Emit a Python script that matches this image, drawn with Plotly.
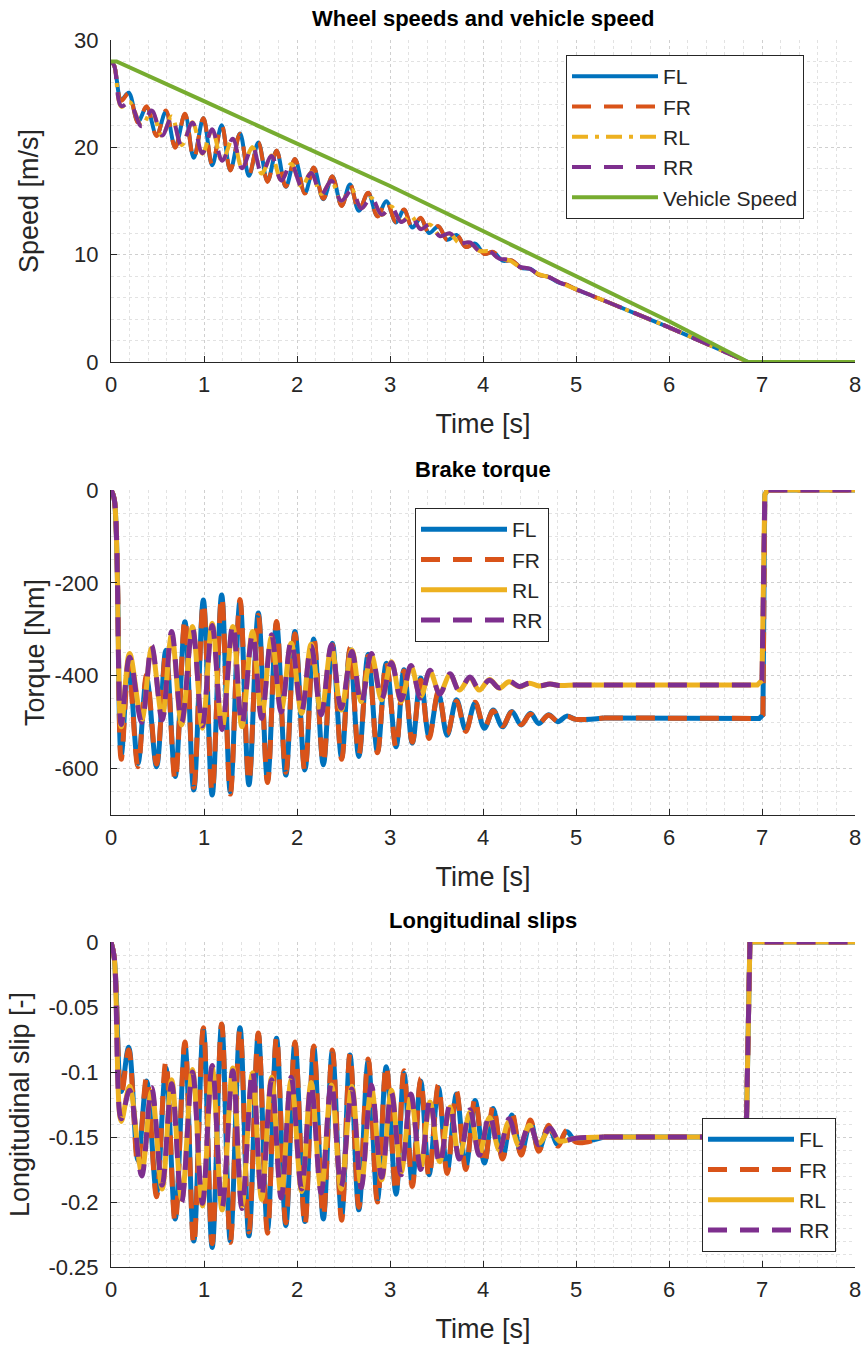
import plotly.graph_objects as go

# ---------------- data ----------------
# extrema times of the front-wheel oscillation (shared by torque / slip / speed)
T_FRONT = [0.0, 0.035, 0.11, 0.19, 0.29, 0.383, 0.49, 0.59, 0.69, 0.795, 0.89, 0.993, 1.088, 1.19,
           1.283, 1.387, 1.483, 1.584, 1.683, 1.78, 1.88, 1.978, 2.085, 2.18, 2.283, 2.38, 2.48, 2.57,
           2.665, 2.765, 2.865, 2.96, 3.065, 3.15, 3.24, 3.33, 3.42, 3.52, 3.615, 3.715, 3.815, 3.915,
           4.015, 4.11, 4.21, 4.31, 4.41, 4.51, 4.60, 4.705, 4.805, 4.90, 5.0, 5.3]
# extrema times of the rear-wheel oscillation
T_REAR = [0.0, 0.035, 0.11, 0.20, 0.33, 0.437, 0.55, 0.652, 0.76, 0.876, 0.983, 1.088, 1.195, 1.31,
          1.408, 1.522, 1.62, 1.727, 1.83, 1.938, 2.05, 2.152, 2.26, 2.37, 2.475, 2.59, 2.69, 2.80,
          2.91, 3.015, 3.12, 3.225, 3.33, 3.43, 3.535, 3.645, 3.745, 3.86, 3.96, 4.07, 4.175, 4.28,
          4.39, 4.50, 4.60, 4.72, 4.82, 5.0, 5.3]

# wheel speeds [m/s]
SPD_FL = [28.0, 27.6, 24.42, 25.09, 22.40, 23.74, 21.13, 23.32, 20.03, 23.08, 19.03, 22.70, 18.33, 22.06,
          17.86, 21.29, 17.35, 20.46, 16.85, 19.69, 16.32, 18.89, 15.75, 18.09, 15.17, 17.29, 14.58, 16.54,
          14.09, 15.74, 13.59, 14.97, 13.00, 14.18, 12.53, 13.40, 12.02, 12.63, 11.39, 11.83, 10.73, 11.03,
          10.08, 10.24, 9.44, 9.45, 8.77, 8.67, 8.13, 7.93, 7.44, 7.19, 6.78, 5.73]
SPD_FR = [28.0, 27.6, 24.33, 25.03, 22.30, 23.82, 21.06, 23.44, 19.95, 23.13, 18.95, 22.72, 18.40, 22.08,
          17.84, 21.26, 17.42, 20.48, 16.78, 19.71, 16.36, 18.91, 15.69, 18.11, 15.20, 17.31, 14.53, 16.56,
          14.12, 15.78, 13.55, 14.99, 13.03, 14.21, 12.50, 13.43, 11.99, 12.66, 11.36, 11.86, 10.71, 11.05,
          10.06, 10.26, 9.43, 9.47, 8.76, 8.68, 8.12, 7.94, 7.44, 7.20, 6.77, 5.73]
SPD_RL = [28.0, 27.6, 23.78, 24.23, 22.04, 23.35, 21.04, 22.88, 20.20, 22.33, 19.41, 21.64, 18.69, 20.85,
          18.10, 20.02, 17.55, 19.23, 16.95, 18.45, 16.32, 17.65, 15.66, 16.84, 14.99, 16.04, 14.34, 15.27,
          13.69, 14.48, 13.09, 13.62, 12.41, 12.80, 11.76, 11.95, 11.07, 11.11, 10.35, 10.30, 9.63, 9.50,
          8.90, 8.68, 8.18, 7.86, 7.42, 6.79, 5.73]
SPD_RR = [28.0, 27.6, 23.84, 24.15, 21.96, 23.43, 21.11, 22.80, 20.15, 22.28, 19.46, 21.68, 18.74, 20.80,
          18.05, 20.06, 17.59, 19.19, 16.91, 18.49, 16.36, 17.61, 15.62, 16.88, 15.02, 16.00, 14.31, 15.31,
          13.73, 14.44, 13.05, 13.65, 12.38, 12.82, 11.73, 11.98, 11.05, 11.14, 10.34, 10.33, 9.62, 9.52,
          8.89, 8.69, 8.17, 7.87, 7.42, 6.79, 5.73]
SPD_TAIL_T = [5.3, 6.0, 6.5, 6.85, 8.0]
SPD_TAIL = [5.73, 3.23, 1.33, 0.0, 0.0]
VEH_T = [0.0, 0.06, 1.0, 2.0, 3.0, 4.0, 5.0, 6.0, 6.85, 8.0]
VEH = [28.0, 28.0, 24.3, 20.4, 16.4, 12.2, 8.0, 3.8, 0.0, 0.0]

# brake torque [Nm]
TQ_FL = [0, -20, -571, -370, -589, -405, -596, -345, -617, -284, -646, -237, -657, -226, -650, -240,
         -635, -265, -625, -287, -614, -305, -603, -321, -592, -330, -577, -344, -574, -354, -564, -373,
         -553, -387, -545, -405, -531, -438, -528, -452, -517, -459, -513, -474, -510, -477, -506, -481,
         -503, -484, -499, -487, -494, -491]
TQ_FR = [0, -20, -580, -378, -596, -398, -590, -352, -625, -278, -640, -243, -650, -230, -655, -236,
         -628, -270, -630, -283, -608, -310, -606, -318, -588, -334, -580, -340, -570, -358, -566, -370,
         -555, -390, -543, -410, -535, -434, -525, -455, -520, -457, -511, -476, -508, -478, -505, -483,
         -502, -485, -498, -488, -494, -491]
TQ_RL = [0, -20, -510, -352, -495, -341, -488, -312, -506, -294, -513, -287, -513, -294, -510, -305,
         -488, -316, -474, -330, -481, -332, -481, -337, -474, -344, -456, -355, -452, -370, -456, -380,
         -445, -391, -438, -398, -431, -405, -431, -408, -427, -413, -424, -416, -422, -418, -421, -420, -420]
TQ_RR = [0, -20, -505, -360, -500, -335, -495, -305, -500, -298, -508, -292, -516, -290, -505, -310,
         -492, -312, -478, -326, -476, -336, -484, -334, -470, -348, -460, -352, -450, -372, -452, -378,
         -448, -388, -440, -396, -433, -403, -429, -410, -426, -412, -423, -416, -422, -418, -421, -420, -420]
TQ_TAIL_T_F = [5.3, 6.97, 7.01, 7.03, 7.06, 8.0]
TQ_TAIL_F = [-491, -492, -484, -10, 0, 0]
TQ_TAIL_T_R = [5.3, 6.95, 7.0, 7.03, 7.06, 8.0]
TQ_TAIL_R = [-420, -420, -410, -10, 0, 0]

# longitudinal slip [-]
SL_FL = [0, -0.012, -0.115, -0.081, -0.168, -0.107, -0.193, -0.097, -0.213, -0.079, -0.230, -0.067,
         -0.235, -0.0635, -0.230, -0.066, -0.226, -0.071, -0.221, -0.074, -0.218, -0.078, -0.215, -0.081,
         -0.213, -0.084, -0.211, -0.087, -0.206, -0.092, -0.198, -0.096, -0.194, -0.101, -0.186, -0.107,
         -0.179, -0.112, -0.176, -0.117, -0.173, -0.122, -0.170, -0.128, -0.166, -0.133, -0.163, -0.138,
         -0.160, -0.142, -0.156, -0.146, -0.153, -0.150]
SL_FR = [0, -0.012, -0.118, -0.083, -0.172, -0.104, -0.196, -0.092, -0.216, -0.077, -0.233, -0.066,
         -0.232, -0.063, -0.231, -0.067, -0.223, -0.070, -0.224, -0.073, -0.216, -0.077, -0.218, -0.080,
         -0.211, -0.083, -0.214, -0.086, -0.204, -0.090, -0.200, -0.095, -0.192, -0.099, -0.188, -0.105,
         -0.181, -0.110, -0.178, -0.115, -0.175, -0.120, -0.171, -0.126, -0.167, -0.131, -0.164, -0.137,
         -0.161, -0.141, -0.157, -0.145, -0.154, -0.150]
SL_RL = [0, -0.012, -0.138, -0.111, -0.177, -0.115, -0.190, -0.106, -0.198, -0.098, -0.203, -0.097,
         -0.206, -0.097, -0.203, -0.1006, -0.198, -0.104, -0.195, -0.106, -0.192, -0.108, -0.191, -0.110,
         -0.190, -0.111, -0.187, -0.112, -0.183, -0.114, -0.177, -0.119, -0.173, -0.123, -0.169, -0.127,
         -0.166, -0.131, -0.163, -0.135, -0.160, -0.138, -0.157, -0.141, -0.155, -0.144, -0.153, -0.151, -0.150]
SL_RR = [0, -0.012, -0.136, -0.114, -0.180, -0.112, -0.187, -0.109, -0.200, -0.100, -0.201, -0.095,
         -0.204, -0.099, -0.205, -0.099, -0.196, -0.106, -0.197, -0.104, -0.190, -0.110, -0.193, -0.108,
         -0.188, -0.113, -0.189, -0.110, -0.181, -0.116, -0.179, -0.117, -0.175, -0.121, -0.171, -0.125,
         -0.167, -0.129, -0.164, -0.133, -0.161, -0.136, -0.158, -0.140, -0.156, -0.143, -0.153, -0.151, -0.150]
SL_TAIL_T = [5.3, 6.83, 6.85, 6.87, 8.0]
SL_TAIL = [-0.150, -0.150, -0.075, 0.0, 0.0]

X_TICKS = [0, 1, 2, 3, 4, 5, 6, 7, 8]
SPD_TICKS = [0, 10, 20, 30]
TQ_TICKS = [-600, -400, -200, 0]
TQ_TICKTEXT = ['-600', '-400', '-200', '0']
SL_TICKS = [-0.25, -0.2, -0.15, -0.1, -0.05, 0]
SL_TICKTEXT = ['-0.25', '-0.2', '-0.15', '-0.1', '-0.05', '0']

for a, b in [(T_FRONT, SPD_FL), (T_FRONT, SPD_FR), (T_FRONT, TQ_FL), (T_FRONT, TQ_FR),
             (T_FRONT, SL_FL), (T_FRONT, SL_FR), (T_REAR, SPD_RL), (T_REAR, SPD_RR),
             (T_REAR, TQ_RL), (T_REAR, TQ_RR), (T_REAR, SL_RL), (T_REAR, SL_RR)]:
    assert len(a) == len(b), (len(a), len(b))

# ---------------- style ----------------
W, H = 865, 1352
C = {'FL': '#0072BD', 'FR': '#D95319', 'RL': '#EDB120', 'RR': '#7E2F8E', 'VEH': '#77AC30'}
FONT = 'Liberation Sans, Arial, Helvetica, sans-serif'
TXT = '#262626'
DASH = '19px,13px'
DASHDOT = '16px,7px,4px,7px'

fig = go.Figure()


def add_series(name, t_osc, v_osc, t_tail, v_tail, ax, legend, color, dash, width):
    xa = 'x' if ax == 1 else 'x%d' % ax
    ya = 'y' if ax == 1 else 'y%d' % ax
    grp = '%s_%d' % (name, ax)
    fig.add_trace(go.Scatter(x=t_osc, y=v_osc, mode='lines', name=name, xaxis=xa, yaxis=ya,
                             legend=legend, legendgroup=grp,
                             line=dict(color=color, width=width, dash=dash, shape='spline', smoothing=1.0)))
    fig.add_trace(go.Scatter(x=t_tail, y=v_tail, mode='lines', name=name, xaxis=xa, yaxis=ya,
                             legend=legend, legendgroup=grp, showlegend=False,
                             line=dict(color=color, width=width, dash=dash)))


# speed plot
add_series('FL', T_FRONT, SPD_FL, SPD_TAIL_T, SPD_TAIL, 1, 'legend', C['FL'], 'solid', 4)
add_series('FR', T_FRONT, SPD_FR, SPD_TAIL_T, SPD_TAIL, 1, 'legend', C['FR'], DASH, 4)
add_series('RL', T_REAR, SPD_RL, SPD_TAIL_T, SPD_TAIL, 1, 'legend', C['RL'], DASHDOT, 4)
add_series('RR', T_REAR, SPD_RR, SPD_TAIL_T, SPD_TAIL, 1, 'legend', C['RR'], DASH, 4)
fig.add_trace(go.Scatter(x=VEH_T, y=VEH, mode='lines', name='Vehicle Speed', legend='legend',
                         legendgroup='veh', line=dict(color=C['VEH'], width=4)))

# torque plot
add_series('FL', T_FRONT, TQ_FL, TQ_TAIL_T_F, TQ_TAIL_F, 2, 'legend2', C['FL'], 'solid', 5)
add_series('FR', T_FRONT, TQ_FR, TQ_TAIL_T_F, TQ_TAIL_F, 2, 'legend2', C['FR'], DASH, 5)
add_series('RL', T_REAR, TQ_RL, TQ_TAIL_T_R, TQ_TAIL_R, 2, 'legend2', C['RL'], 'solid', 5)
add_series('RR', T_REAR, TQ_RR, TQ_TAIL_T_R, TQ_TAIL_R, 2, 'legend2', C['RR'], DASH, 5)

# slip plot
add_series('FL', T_FRONT, SL_FL, SL_TAIL_T, SL_TAIL, 3, 'legend3', C['FL'], 'solid', 5)
add_series('FR', T_FRONT, SL_FR, SL_TAIL_T, SL_TAIL, 3, 'legend3', C['FR'], DASH, 5)
add_series('RL', T_REAR, SL_RL, SL_TAIL_T, SL_TAIL, 3, 'legend3', C['RL'], 'solid', 5)
add_series('RR', T_REAR, SL_RR, SL_TAIL_T, SL_TAIL, 3, 'legend3', C['RR'], DASH, 5)

# ---------------- axes ----------------
X0, X1 = 111, 855
PLOTS = [(40, 362), (490, 815), (942, 1267)]


def ydom(top, bot):
    return [1 - bot / H, 1 - top / H]


TICK_SIZE = 22
base = dict(showline=True, linecolor=TXT, linewidth=1, ticks='inside', ticklen=6, tickcolor=TXT,
            tickfont=dict(family=FONT, size=TICK_SIZE, color=TXT), showgrid=True, gridcolor='#cfcfcf',
            griddash='dot', gridwidth=1, zeroline=False, mirror=False, automargin=False)

title_font = dict(family=FONT, size=27, color=TXT)
yinfo = [
    dict(range=[0, 30], tickvals=SPD_TICKS, ticktext=[str(v) for v in SPD_TICKS], minor_dtick=2,
         title='Speed [m/s]', standoff=27),
    dict(range=[-700, 0], tickvals=TQ_TICKS, ticktext=TQ_TICKTEXT, minor_dtick=50,
         title='Torque [Nm]', standoff=2),
    dict(range=[-0.25, 0], tickvals=SL_TICKS, ticktext=SL_TICKTEXT, minor_dtick=0.01,
         title='Longitudinal slip [-]', standoff=10),
]
layout_axes = {}
for i, ((top, bot), yi) in enumerate(zip(PLOTS, yinfo), start=1):
    sx = '' if i == 1 else str(i)
    layout_axes['xaxis' + sx] = dict(
        base, domain=[X0 / W, X1 / W], anchor='y' + sx, range=[0, 8], tickvals=X_TICKS,
        ticktext=[str(v) for v in X_TICKS], ticklabelstandoff=3,
        minor=dict(dtick=0.2, showgrid=True, gridcolor='#e2e2e2', griddash='dot', gridwidth=1),
        title=dict(text='Time [s]', font=title_font, standoff=17))
    layout_axes['yaxis' + sx] = dict(
        base, domain=ydom(top, bot), anchor='x' + sx, range=yi['range'], tickvals=yi['tickvals'],
        ticktext=yi['ticktext'], ticklabelstandoff=7,
        minor=dict(dtick=yi['minor_dtick'], showgrid=True, gridcolor='#e2e2e2', griddash='dot', gridwidth=1),
        title=dict(text=yi['title'], font=title_font, standoff=yi['standoff']))

leg_common = dict(bgcolor='white', bordercolor='#262626', borderwidth=1,
                  font=dict(family=FONT, size=21, color=TXT), xanchor='left', yanchor='top',
                  tracegroupgap=0, itemwidth=86)

titles = [('Wheel speeds and vehicle speed', 18), ('Brake torque', 470), ('Longitudinal slips', 920)]
annotations = [dict(text='<b>%s</b>' % t, x=(X0 + X1) / 2 / W, y=1 - yy / H, xref='paper', yref='paper',
                    xanchor='center', yanchor='middle', showarrow=False,
                    font=dict(family=FONT, size=22, color='#000000')) for t, yy in titles]

fig.update_layout(
    width=W, height=H, margin=dict(l=0, r=0, t=0, b=0, pad=0, autoexpand=False),
    paper_bgcolor='white', plot_bgcolor='white',
    font=dict(family=FONT, color=TXT),
    legend=dict(leg_common, x=566 / W, y=1 - 55 / H),
    legend2=dict(leg_common, x=415 / W, y=1 - 508 / H),
    legend3=dict(leg_common, x=702 / W, y=1 - 1118 / H),
    annotations=annotations,
    showlegend=True,
    **layout_axes,
)

fig.write_html('out.html', config={'displayModeBar': False},
               post_script="document.body.style.margin='0px';")
